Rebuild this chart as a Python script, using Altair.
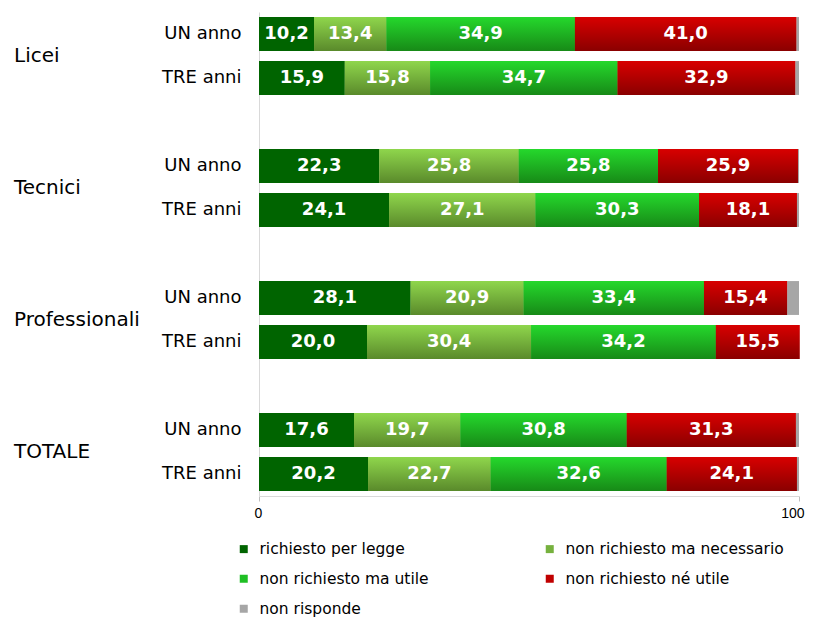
import altair as alt
import pandas as pd

groups = ["Licei", "Tecnici", "Professionali", "TOTALE"]
periods = ["UN anno", "TRE anni"]
categories = ["richiesto per legge", "non richiesto ma necessario",
              "non richiesto ma utile", "non richiesto né utile", "non risponde"]

# one value per bar: Licei UN, Licei TRE, Tecnici UN, Tecnici TRE, Prof UN, Prof TRE, TOT UN, TOT TRE
richiesto = [10.2, 15.9, 22.3, 24.1, 28.1, 20.0, 17.6, 20.2]
necessario = [13.4, 15.8, 25.8, 27.1, 20.9, 30.4, 19.7, 22.7]
utile = [34.9, 34.7, 25.8, 30.3, 33.4, 34.2, 30.8, 32.6]
ne_utile = [41.0, 32.9, 25.9, 18.1, 15.4, 15.5, 31.3, 24.1]
non_risponde = [0.5, 0.7, 0.2, 0.4, 2.2, 0.0, 0.6, 0.4]

series = [richiesto, necessario, utile, ne_utile, non_risponde]
solid_colors = ["#006400", "#76b13e", "#1fbf24", "#c00000", "#a6a6a6"]

keys = [f"{g}|{p}" for g in groups for p in periods]
y_domain = []
for i, g in enumerate(groups):
    y_domain += [f"{g}|{p}" for p in periods]
    if i < len(groups) - 1:
        y_domain.append(f"gap{i}")

rows = []
for ci, (cat, vals) in enumerate(zip(categories, series)):
    for k, v in zip(keys, vals):
        rows.append({"key": k, "cat": cat, "order": ci, "value": v})
df = pd.DataFrame(rows)

glabels = pd.DataFrame({"group": groups, "key": [f"{g}|UN anno" for g in groups]})

FONT = "DejaVu Sans"

y_enc = alt.Y("key:N", scale=alt.Scale(domain=y_domain, paddingInner=0.23, paddingOuter=0.115),
              axis=alt.Axis(title=None, ticks=False, grid=False, domainColor="#d9d9d9",
                            labelFontSize=18, labelColor="black", labelPadding=18, labelFont=FONT,
                            labelExpr="indexof(datum.value,'|') >= 0 ? split(datum.value,'|')[1] : ''"))
x_enc = alt.X("x0:Q", scale=alt.Scale(domain=[0, 100], nice=False),
              axis=alt.Axis(title=None, values=[0, 100], grid=False, domainColor="#d9d9d9",
                            tickColor="#bfbfbf", tickSize=5, labelFontSize=14, labelColor="black",
                            labelPadding=5, labelFlush=True, labelFlushOffset=5,
                            labelFont="Liberation Sans", format="d"))

base = alt.Chart(df).transform_stack(
    stack="value", groupby=["key"], as_=["x0", "x1"], sort=[alt.SortField("order")]
).transform_calculate(
    mid="(datum.x0 + datum.x1) / 2",
    label="replace(format(datum.value, '.1f'), '.', ',')"
)

bars = base.mark_bar().encode(
    x=x_enc, x2="x1:Q", y=y_enc,
    color=alt.Color("cat:N", scale=alt.Scale(domain=categories, range=solid_colors),
                    legend=alt.Legend(title=None, orient="none", legendX=-23, legendY=529,
                                      direction="horizontal",
                                      columns=2, columnPadding=113, rowPadding=13,
                                      symbolType="square", symbolSize=64, symbolStrokeWidth=0,
                                      labelFontSize=15.5, labelColor="black", labelFont=FONT,
                                      labelOffset=8, labelLimit=400)),
)

def grad(top, bottom):
    return alt.Gradient(gradient="linear",
                        stops=[alt.GradientStop(color=top, offset=0),
                               alt.GradientStop(color=bottom, offset=1)],
                        x1=0, x2=0, y1=0, y2=1)

grad_specs = [
    (categories[1], grad("#8fd64c", "#5a8a2b")),
    (categories[2], grad("#25d82c", "#178a17")),
    (categories[3], grad("#d80000", "#8a0000")),
]
overlays = [
    base.transform_filter(alt.datum.cat == c).mark_bar(color=g).encode(x="x0:Q", x2="x1:Q", y="key:N")
    for c, g in grad_specs
]

texts = base.transform_filter(alt.datum.cat != "non risponde").mark_text(
    color="white", fontWeight="bold", fontSize=18, font=FONT, baseline="middle", align="center"
).encode(x="mid:Q", y="key:N", text="label:N")

glab = alt.Chart(glabels).mark_text(
    align="left", baseline="middle", fontSize=20, font=FONT, color="black", dy=22
).encode(x=alt.value(-245), y="key:N", text="group:N")

chart = alt.layer(bars, *overlays, texts, glab).properties(
    width=540, height=484,
    autosize=alt.AutoSizeParams(type="none"),
    padding={"left": 251, "top": 4, "right": 8, "bottom": 127},
).configure_view(stroke=None)

chart.save("out.html", embed_options={"renderer": "svg", "actions": False})
